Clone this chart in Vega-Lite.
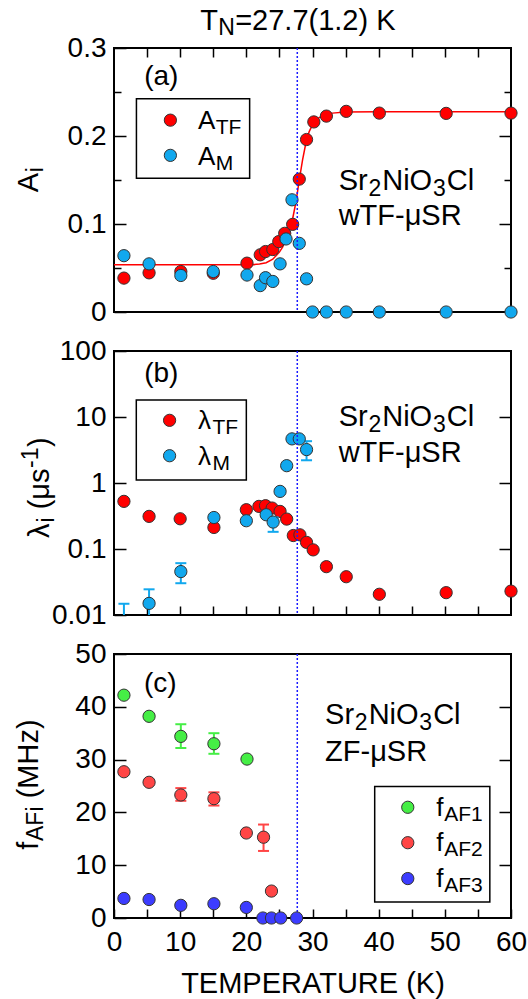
{
  "$schema": "https://vega.github.io/schema/vega-lite/v6.json",
  "padding": {"left": 14, "top": 5, "right": 5, "bottom": 5},
  "bounds": "flush",
  "spacing": 39,
  "config": {
    "font": "Liberation Sans",
    "view": {"stroke": "black", "strokeWidth": 2},
    "axis": {"domain": false, "grid": false, "tickColor": "black", "tickWidth": 1.5, "labelFont": "Liberation Sans", "labelFontSize": 28, "labelColor": "black", "titleFont": "Liberation Sans", "titleFontWeight": "normal", "titleColor": "black", "labelOverlap": false, "labelFlush": false, "labelBound": false},
    "text": {"font": "Liberation Sans", "fontSize": 29, "align": "left", "baseline": "alphabetic", "color": "black"},
    "circle": {"size": 150, "stroke": "#333333", "strokeWidth": 1, "opacity": 1}
  },
  "datasets": {
    "a_fit": [
      {"T": 0, "A": 0.0536}, {"T": 20, "A": 0.0536}, {"T": 21, "A": 0.0538}, {"T": 22, "A": 0.0545}, {"T": 23, "A": 0.056}, {"T": 24, "A": 0.06}, {"T": 25, "A": 0.068}, {"T": 25.5, "A": 0.074}, {"T": 26, "A": 0.083}, {"T": 26.5, "A": 0.093}, {"T": 27, "A": 0.106}, {"T": 27.5, "A": 0.125}, {"T": 28, "A": 0.15}, {"T": 28.5, "A": 0.173}, {"T": 29, "A": 0.192}, {"T": 29.5, "A": 0.205}, {"T": 30, "A": 0.213}, {"T": 31, "A": 0.221}, {"T": 32, "A": 0.2245}, {"T": 33, "A": 0.226}, {"T": 35, "A": 0.2272}, {"T": 40, "A": 0.2275}, {"T": 60, "A": 0.2275}
    ],
    "a_pts": [
      {"T": 1.5, "A": 0.0385, "s": "ATF"}, {"T": 5.3, "A": 0.0445, "s": "ATF"}, {"T": 10.1, "A": 0.046, "s": "ATF"}, {"T": 15.0, "A": 0.044, "s": "ATF"}, {"T": 20.1, "A": 0.0555, "s": "ATF"}, {"T": 22.1, "A": 0.065, "s": "ATF"}, {"T": 22.9, "A": 0.0687, "s": "ATF"}, {"T": 24.0, "A": 0.071, "s": "ATF"}, {"T": 24.9, "A": 0.08, "s": "ATF"}, {"T": 25.8, "A": 0.0894, "s": "ATF"}, {"T": 27.0, "A": 0.0996, "s": "ATF"}, {"T": 28.0, "A": 0.151, "s": "ATF"}, {"T": 29.1, "A": 0.196, "s": "ATF"}, {"T": 30.2, "A": 0.216, "s": "ATF"}, {"T": 32.1, "A": 0.2226, "s": "ATF"}, {"T": 35.1, "A": 0.228, "s": "ATF"}, {"T": 40.1, "A": 0.226, "s": "ATF"}, {"T": 50.2, "A": 0.2257, "s": "ATF"}, {"T": 60.0, "A": 0.226, "s": "ATF"},
      {"T": 1.5, "A": 0.064, "s": "AM"}, {"T": 5.3, "A": 0.0547, "s": "AM"}, {"T": 10.1, "A": 0.0415, "s": "AM"}, {"T": 15.0, "A": 0.046, "s": "AM"}, {"T": 20.1, "A": 0.042, "s": "AM"}, {"T": 22.1, "A": 0.03, "s": "AM"}, {"T": 22.9, "A": 0.039, "s": "AM"}, {"T": 24.0, "A": 0.0347, "s": "AM"}, {"T": 25.1, "A": 0.0547, "s": "AM"}, {"T": 26.0, "A": 0.083, "s": "AM"}, {"T": 26.9, "A": 0.1275, "s": "AM"}, {"T": 28.0, "A": 0.078, "s": "AM"}, {"T": 29.1, "A": 0.0377, "s": "AM"}, {"T": 30.0, "A": 0, "s": "AM"}, {"T": 32.1, "A": 0, "s": "AM"}, {"T": 35.1, "A": 0, "s": "AM"}, {"T": 40.1, "A": 0, "s": "AM"}, {"T": 50.2, "A": 0, "s": "AM"}, {"T": 60.0, "A": 0, "s": "AM"}
    ],
    "b_pts": [
      {"T": 1.5, "L": 0.527, "s": "LTF"}, {"T": 5.3, "L": 0.312, "s": "LTF"}, {"T": 10.0, "L": 0.287, "s": "LTF"}, {"T": 15.1, "L": 0.212, "s": "LTF"}, {"T": 20.0, "L": 0.394, "s": "LTF"}, {"T": 21.9, "L": 0.442, "s": "LTF"}, {"T": 22.9, "L": 0.453, "s": "LTF"}, {"T": 23.9, "L": 0.417, "s": "LTF"}, {"T": 25.1, "L": 0.371, "s": "LTF"}, {"T": 26.1, "L": 0.284, "s": "LTF"}, {"T": 27.1, "L": 0.16, "s": "LTF"}, {"T": 28.1, "L": 0.164, "s": "LTF"}, {"T": 29.1, "L": 0.126, "s": "LTF"}, {"T": 30.1, "L": 0.097, "s": "LTF"}, {"T": 32.1, "L": 0.054, "s": "LTF"}, {"T": 35.1, "L": 0.038, "s": "LTF"}, {"T": 40.1, "L": 0.0206, "s": "LTF"}, {"T": 50.2, "L": 0.0218, "s": "LTF"}, {"T": 60.0, "L": 0.023, "s": "LTF"},
      {"T": 1.5, "L": 0.007, "s": "LM"}, {"T": 5.3, "L": 0.015, "s": "LM"}, {"T": 10.1, "L": 0.0455, "s": "LM"}, {"T": 15.1, "L": 0.3, "s": "LM"}, {"T": 20.0, "L": 0.268, "s": "LM"}, {"T": 23.0, "L": 0.33, "s": "LM"}, {"T": 24.05, "L": 0.256, "s": "LM"}, {"T": 25.1, "L": 0.746, "s": "LM"}, {"T": 26.1, "L": 1.83, "s": "LM"}, {"T": 26.9, "L": 4.66, "s": "LM"}, {"T": 28.0, "L": 4.66, "s": "LM"}, {"T": 29.1, "L": 3.21, "s": "LM"}
    ],
    "b_err": [
      {"T": 1.5, "lo": 0.004, "hi": 0.0148}, {"T": 5.3, "lo": 0.009, "hi": 0.0245}, {"T": 10.1, "lo": 0.0303, "hi": 0.061}, {"T": 24.05, "lo": 0.182, "hi": 0.3}, {"T": 29.1, "lo": 2.21, "hi": 4.3}
    ],
    "c_pts": [
      {"T": 1.5, "f": 42.2, "s": "AF1"}, {"T": 5.3, "f": 38.2, "s": "AF1"}, {"T": 10.1, "f": 34.4, "s": "AF1"}, {"T": 15.1, "f": 33.0, "s": "AF1"}, {"T": 20.1, "f": 30.1, "s": "AF1"},
      {"T": 1.5, "f": 27.7, "s": "AF2"}, {"T": 5.3, "f": 25.7, "s": "AF2"}, {"T": 10.1, "f": 23.3, "s": "AF2"}, {"T": 15.1, "f": 22.6, "s": "AF2"}, {"T": 20.0, "f": 16.1, "s": "AF2"}, {"T": 22.6, "f": 15.3, "s": "AF2"}, {"T": 23.8, "f": 5.1, "s": "AF2"},
      {"T": 1.5, "f": 3.7, "s": "AF3"}, {"T": 5.3, "f": 3.5, "s": "AF3"}, {"T": 10.1, "f": 2.4, "s": "AF3"}, {"T": 15.1, "f": 2.7, "s": "AF3"}, {"T": 20.0, "f": 2.0, "s": "AF3"}, {"T": 22.5, "f": 0, "s": "AF3"}, {"T": 23.8, "f": 0, "s": "AF3"}, {"T": 25.2, "f": 0, "s": "AF3"}, {"T": 27.6, "f": 0, "s": "AF3"}
    ],
    "c_err": [
      {"T": 10.1, "lo": 32.2, "hi": 36.7, "s": "AF1"}, {"T": 15.1, "lo": 31.1, "hi": 35.0, "s": "AF1"},
      {"T": 10.1, "lo": 22.2, "hi": 24.6, "s": "AF2"}, {"T": 15.1, "lo": 21.3, "hi": 23.8, "s": "AF2"}, {"T": 22.6, "lo": 12.7, "hi": 17.7, "s": "AF2"}
    ]
  },
  "vconcat": [
    {
      "width": 397, "height": 264,
      "resolve": {"axis": {"x": "independent", "y": "independent"}},
      "layer": [
        {"data": {"name": "a_fit"}, "mark": {"type": "line", "color": "#ff0000", "strokeWidth": 1.5},
         "encoding": {
           "x": {"field": "T", "type": "quantitative", "scale": {"domain": [0, 60]}, "axis": {"orient": "top", "values": [5, 10, 15, 20, 25, 30, 35, 40, 45, 50, 55], "tickSize": -9, "labels": false, "title": null}},
           "y": {"field": "A", "type": "quantitative", "scale": {"domain": [0, 0.3]}, "axis": {"orient": "left", "values": [0, 0.1, 0.2, 0.3], "tickSize": -12, "labelPadding": 20, "format": "~g", "title": null}}}},
        {"data": {"name": "a_pts"}, "transform": [{"filter": "datum.s === 'ATF'"}],
         "mark": {"type": "circle", "fill": "#ff0000"},
         "encoding": {
           "x": {"field": "T", "type": "quantitative", "axis": null},
           "y": {"field": "A", "type": "quantitative", "axis": {"orient": "left", "values": [0.05, 0.15, 0.25], "tickSize": -7, "labels": false, "title": null}}}},
        {"data": {"name": "a_pts"}, "transform": [{"filter": "datum.s === 'AM'"}],
         "mark": {"type": "circle", "fill": "#11a8ee"},
         "encoding": {
           "x": {"field": "T", "type": "quantitative", "axis": null},
           "y": {"field": "A", "type": "quantitative", "axis": {"orient": "right", "values": [0.1, 0.2], "tickSize": -12, "labels": false, "title": null}}}},
        {"data": {"values": [{}]}, "mark": {"type": "rule", "color": "#1a1aff", "strokeDash": [2, 2], "strokeWidth": 1.5},
         "encoding": {"x": {"datum": 27.7, "type": "quantitative", "axis": null}}},
        {"data": {"values": [{}]}, "mark": {"type": "rect", "fill": "white", "stroke": "black", "strokeWidth": 1.5},
         "encoding": {
           "x": {"datum": 3.39, "type": "quantitative", "axis": null}, "x2": {"datum": 20.5},
           "y": {"datum": 0.2423, "type": "quantitative", "axis": {"orient": "right", "values": [0.05, 0.15, 0.25], "tickSize": -7, "labels": false, "title": null}}, "y2": {"datum": 0.152}}},
        {"data": {"values": [{}]},
         "layer": [
           {"mark": {"type": "circle", "fill": "#ff0000"},
            "encoding": {"x": {"datum": 8.52, "type": "quantitative", "axis": null}, "y": {"datum": 0.218, "type": "quantitative", "axis": null}}},
           {"mark": {"type": "circle", "fill": "#11a8ee"},
            "encoding": {"x": {"datum": 8.52, "type": "quantitative", "axis": null}, "y": {"datum": 0.178, "type": "quantitative", "axis": null}}},
           {"encoding": {"x": {"datum": 12.69, "type": "quantitative", "axis": null}, "y": {"datum": 0.208, "type": "quantitative", "axis": null}},
            "layer": [
              {"mark": {"type": "text", "text": "A", "fontSize": 26}},
              {"mark": {"type": "text", "text": "TF", "fontSize": 21, "dx": 17.8, "dy": 5}}]},
           {"encoding": {"x": {"datum": 12.69, "type": "quantitative", "axis": null}, "y": {"datum": 0.1675, "type": "quantitative", "axis": null}},
            "layer": [
              {"mark": {"type": "text", "text": "A", "fontSize": 26}},
              {"mark": {"type": "text", "text": "M", "fontSize": 21, "dx": 17.8, "dy": 5}}]},
           {"encoding": {"x": {"datum": 13.05, "type": "quantitative", "axis": null}, "y": {"datum": 0.3208, "type": "quantitative", "axis": null}},
            "layer": [
              {"mark": {"type": "text", "text": "T", "fontSize": 29}},
              {"mark": {"type": "text", "text": "N", "fontSize": 23, "dx": 17.9, "dy": 5}},
              {"mark": {"type": "text", "text": "=27.7(1.2) K", "fontSize": 29, "dx": 34.8}}]},
           {"mark": {"type": "text", "text": "(a)", "fontSize": 28, "align": "center", "baseline": "middle"},
            "encoding": {"x": {"datum": 7.15, "type": "quantitative", "axis": null}, "y": {"datum": 0.267, "type": "quantitative", "axis": null}}},
           {"encoding": {"x": {"datum": 33.95, "type": "quantitative", "axis": null}, "y": {"datum": 0.1383, "type": "quantitative", "axis": null}},
            "layer": [
              {"mark": {"type": "text", "text": "Sr"}},
              {"mark": {"type": "text", "text": "2", "fontSize": 23, "dx": 29.8, "dy": 6}},
              {"mark": {"type": "text", "text": "NiO", "dx": 43.6}},
              {"mark": {"type": "text", "text": "3", "fontSize": 23, "dx": 94.3, "dy": 6}},
              {"mark": {"type": "text", "text": "Cl", "dx": 108.1}}]},
           {"mark": {"type": "text", "text": "wTF-μSR"},
            "encoding": {"x": {"datum": 33.95, "type": "quantitative", "axis": null}, "y": {"datum": 0.0985, "type": "quantitative", "axis": null}}},
           {"encoding": {"x": {"datum": -11.44, "type": "quantitative", "axis": null}, "y": {"datum": 0.1362, "type": "quantitative", "axis": null}},
            "layer": [
              {"mark": {"type": "text", "text": "A", "angle": 270}},
              {"mark": {"type": "text", "text": "i", "fontSize": 23, "angle": 270, "dx": 19.8, "dy": 5}}]}
         ]}
      ]
    },
    {
      "width": 397, "height": 264,
      "resolve": {"axis": {"x": "independent", "y": "independent"}},
      "layer": [
        {"data": {"name": "b_pts"}, "transform": [{"filter": "datum.s === 'LTF'"}],
         "mark": {"type": "circle", "fill": "#ff0000"},
         "encoding": {
           "x": {"field": "T", "type": "quantitative", "scale": {"domain": [0, 60]}, "axis": {"orient": "bottom", "values": [5, 10, 15, 20, 25, 30, 35, 40, 45, 50, 55], "tickSize": -9, "labels": false, "title": null}},
           "y": {"field": "L", "type": "quantitative", "scale": {"type": "log", "domain": [0.01, 100]}, "axis": {"orient": "left", "values": [0.01, 0.1, 1, 10, 100], "tickSize": -12, "labelPadding": 20, "format": "~g", "title": null}}}},
        {"data": {"name": "b_err"}, "mark": {"type": "rule", "color": "#11a8ee", "strokeWidth": 2, "clip": true},
         "encoding": {
           "x": {"field": "T", "type": "quantitative", "axis": null},
           "y": {"field": "lo", "type": "quantitative", "axis": {"orient": "right", "values": [0.1, 1, 10], "tickSize": -12, "labels": false, "title": null}}, "y2": {"field": "hi"}}},
        {"data": {"name": "b_err"}, "mark": {"type": "tick", "orient": "horizontal", "color": "#11a8ee", "size": 11, "thickness": 2, "clip": true, "opacity": 1},
         "encoding": {"x": {"field": "T", "type": "quantitative", "axis": null}, "y": {"field": "lo", "type": "quantitative", "axis": null}}},
        {"data": {"name": "b_err"}, "mark": {"type": "tick", "orient": "horizontal", "color": "#11a8ee", "size": 11, "thickness": 2, "clip": true, "opacity": 1},
         "encoding": {"x": {"field": "T", "type": "quantitative", "axis": null}, "y": {"field": "hi", "type": "quantitative", "axis": null}}},
        {"data": {"name": "b_pts"}, "transform": [{"filter": "datum.s === 'LM'"}],
         "mark": {"type": "circle", "fill": "#11a8ee", "clip": true},
         "encoding": {
           "x": {"field": "T", "type": "quantitative", "axis": null},
           "y": {"field": "L", "type": "quantitative", "axis": null}}},
        {"data": {"values": [{}]}, "mark": {"type": "rule", "color": "#1a1aff", "strokeDash": [2, 2], "strokeWidth": 1.5},
         "encoding": {"x": {"datum": 27.7, "type": "quantitative", "axis": null}}},
        {"data": {"values": [{}]},
         "layer": [
           {"mark": {"type": "rect", "fill": "white", "stroke": "black", "strokeWidth": 1.5},
            "encoding": {"x": {"datum": 3.37, "type": "quantitative", "axis": null}, "x2": {"datum": 20.0}, "y": {"datum": 18.1, "type": "quantitative", "axis": null}, "y2": {"datum": 1.11}}},
           {"mark": {"type": "circle", "fill": "#ff0000"},
            "encoding": {"x": {"datum": 8.4, "type": "quantitative", "axis": null}, "y": {"datum": 8.9, "type": "quantitative", "axis": null}}},
           {"mark": {"type": "circle", "fill": "#11a8ee"},
            "encoding": {"x": {"datum": 8.4, "type": "quantitative", "axis": null}, "y": {"datum": 2.59, "type": "quantitative", "axis": null}}},
           {"encoding": {"x": {"datum": 12.69, "type": "quantitative", "axis": null}, "y": {"datum": 6.52, "type": "quantitative", "axis": null}},
            "layer": [
              {"mark": {"type": "text", "text": "λ", "fontSize": 26}},
              {"mark": {"type": "text", "text": "TF", "fontSize": 21, "dx": 14.5, "dy": 5}}]},
           {"encoding": {"x": {"datum": 12.69, "type": "quantitative", "axis": null}, "y": {"datum": 1.89, "type": "quantitative", "axis": null}},
            "layer": [
              {"mark": {"type": "text", "text": "λ", "fontSize": 26}},
              {"mark": {"type": "text", "text": "M", "fontSize": 21, "dx": 14.5, "dy": 5}}]},
           {"mark": {"type": "text", "text": "(b)", "fontSize": 28, "align": "center", "baseline": "middle"},
            "encoding": {"x": {"datum": 7.15, "type": "quantitative", "axis": null}, "y": {"datum": 44.9, "type": "quantitative", "axis": null}}},
           {"encoding": {"x": {"datum": 33.95, "type": "quantitative", "axis": null}, "y": {"datum": 7.25, "type": "quantitative", "axis": null}},
            "layer": [
              {"mark": {"type": "text", "text": "Sr"}},
              {"mark": {"type": "text", "text": "2", "fontSize": 23, "dx": 29.8, "dy": 6}},
              {"mark": {"type": "text", "text": "NiO", "dx": 43.6}},
              {"mark": {"type": "text", "text": "3", "fontSize": 23, "dx": 94.3, "dy": 6}},
              {"mark": {"type": "text", "text": "Cl", "dx": 108.1}}]},
           {"mark": {"type": "text", "text": "wTF-μSR"},
            "encoding": {"x": {"datum": 33.95, "type": "quantitative", "axis": null}, "y": {"datum": 2.05, "type": "quantitative", "axis": null}}},
           {"encoding": {"x": {"datum": -9.8, "type": "quantitative", "axis": null}, "y": {"datum": 0.147, "type": "quantitative", "axis": null}},
            "layer": [
              {"mark": {"type": "text", "text": "λ", "angle": 270}},
              {"mark": {"type": "text", "text": "i", "fontSize": 23, "angle": 270, "dx": 15.5, "dy": 5}},
              {"mark": {"type": "text", "text": "(μs", "angle": 270, "dx": 28.6}},
              {"mark": {"type": "text", "text": "-1", "fontSize": 23, "angle": 270, "dx": 70, "dy": -11}},
              {"mark": {"type": "text", "text": ")", "angle": 270, "dx": 91}}]}
         ]}
      ]
    },
    {
      "width": 397, "height": 264,
      "resolve": {"axis": {"x": "independent", "y": "independent"}},
      "layer": [
        {"data": {"name": "c_err"}, "mark": {"type": "rule", "strokeWidth": 2},
         "encoding": {
           "x": {"field": "T", "type": "quantitative", "scale": {"domain": [0, 60]}, "axis": null},
           "y": {"field": "lo", "type": "quantitative", "scale": {"domain": [0, 50]}, "axis": {"orient": "right", "values": [10, 20, 30, 40], "tickSize": -12, "labels": false, "title": null}}, "y2": {"field": "hi"},
           "color": {"field": "s", "type": "nominal", "scale": {"domain": ["AF1", "AF2", "AF3"], "range": ["#45ee45", "#ff4545", "#3c3cff"]}, "legend": null}}},
        {"data": {"name": "c_err"}, "mark": {"type": "tick", "orient": "horizontal", "size": 11, "thickness": 2, "opacity": 1},
         "encoding": {"x": {"field": "T", "type": "quantitative", "axis": null}, "y": {"field": "lo", "type": "quantitative", "axis": null}, "color": {"field": "s", "type": "nominal", "legend": null}}},
        {"data": {"name": "c_err"}, "mark": {"type": "tick", "orient": "horizontal", "size": 11, "thickness": 2, "opacity": 1},
         "encoding": {"x": {"field": "T", "type": "quantitative", "axis": null}, "y": {"field": "hi", "type": "quantitative", "axis": null}, "color": {"field": "s", "type": "nominal", "legend": null}}},
        {"data": {"values": [{}]}, "mark": {"type": "rule", "color": "#1a1aff", "strokeDash": [2, 2], "strokeWidth": 1.5},
         "encoding": {"x": {"datum": 27.7, "type": "quantitative", "axis": null}}},
        {"data": {"name": "c_pts"},
         "mark": {"type": "circle"},
         "encoding": {
           "x": {"field": "T", "type": "quantitative", "axis": {"orient": "bottom", "values": [0, 5, 10, 15, 20, 25, 30, 35, 40, 45, 50, 55, 60], "tickSize": -9, "labelPadding": 19, "labelExpr": "datum.value % 10 === 0 ? datum.label : ''", "title": "TEMPERATURE (K)", "titleFontSize": 29, "titlePadding": 13}},
           "y": {"field": "f", "type": "quantitative", "axis": {"orient": "left", "values": [0, 10, 20, 30, 40, 50], "tickSize": -12, "labelPadding": 20, "title": null}},
           "color": {"field": "s", "type": "nominal", "legend": null}}},
        {"data": {"values": [{}]},
         "layer": [
           {"mark": {"type": "rect", "fill": "white", "stroke": "black", "strokeWidth": 1.5},
            "encoding": {"x": {"datum": 39.4, "type": "quantitative", "axis": null}, "x2": {"datum": 56.8}, "y": {"datum": 24.9, "type": "quantitative", "axis": null}, "y2": {"datum": 3.04}}},
           {"mark": {"type": "circle", "fill": "#45ee45"},
            "encoding": {"x": {"datum": 44.4, "type": "quantitative", "axis": null}, "y": {"datum": 20.97, "type": "quantitative", "axis": null}}},
           {"mark": {"type": "circle", "fill": "#ff4545"},
            "encoding": {"x": {"datum": 44.4, "type": "quantitative", "axis": null}, "y": {"datum": 14.26, "type": "quantitative", "axis": null}}},
           {"mark": {"type": "circle", "fill": "#3c3cff"},
            "encoding": {"x": {"datum": 44.4, "type": "quantitative", "axis": null}, "y": {"datum": 7.47, "type": "quantitative", "axis": null}}},
           {"encoding": {"x": {"datum": 48.7, "type": "quantitative", "axis": null}, "y": {"datum": 19.38, "type": "quantitative", "axis": null}},
            "layer": [
              {"mark": {"type": "text", "text": "f", "fontSize": 26}},
              {"mark": {"type": "text", "text": "AF1", "fontSize": 21, "dx": 8, "dy": 5}}]},
           {"encoding": {"x": {"datum": 48.7, "type": "quantitative", "axis": null}, "y": {"datum": 12.69, "type": "quantitative", "axis": null}},
            "layer": [
              {"mark": {"type": "text", "text": "f", "fontSize": 26}},
              {"mark": {"type": "text", "text": "AF2", "fontSize": 21, "dx": 8, "dy": 5}}]},
           {"encoding": {"x": {"datum": 48.7, "type": "quantitative", "axis": null}, "y": {"datum": 5.93, "type": "quantitative", "axis": null}},
            "layer": [
              {"mark": {"type": "text", "text": "f", "fontSize": 26}},
              {"mark": {"type": "text", "text": "AF3", "fontSize": 21, "dx": 8, "dy": 5}}]},
           {"mark": {"type": "text", "text": "(c)", "fontSize": 28, "align": "center", "baseline": "middle"},
            "encoding": {"x": {"datum": 7.0, "type": "quantitative", "axis": null}, "y": {"datum": 44.4, "type": "quantitative", "axis": null}}},
           {"encoding": {"x": {"datum": 31.9, "type": "quantitative", "axis": null}, "y": {"datum": 36.8, "type": "quantitative", "axis": null}},
            "layer": [
              {"mark": {"type": "text", "text": "Sr"}},
              {"mark": {"type": "text", "text": "2", "fontSize": 23, "dx": 29.8, "dy": 6}},
              {"mark": {"type": "text", "text": "NiO", "dx": 43.6}},
              {"mark": {"type": "text", "text": "3", "fontSize": 23, "dx": 94.3, "dy": 6}},
              {"mark": {"type": "text", "text": "Cl", "dx": 108.1}}]},
           {"mark": {"type": "text", "text": "ZF-μSR"},
            "encoding": {"x": {"datum": 31.9, "type": "quantitative", "axis": null}, "y": {"datum": 29.7, "type": "quantitative", "axis": null}}},
           {"encoding": {"x": {"datum": -11.44, "type": "quantitative", "axis": null}, "y": {"datum": 12.92, "type": "quantitative", "axis": null}},
            "layer": [
              {"mark": {"type": "text", "text": "f", "angle": 270}},
              {"mark": {"type": "text", "text": "AFi", "fontSize": 23, "angle": 270, "dx": 8.8, "dy": 5}},
              {"mark": {"type": "text", "text": "(MHz)", "angle": 270, "dx": 51.5}}]}
         ]}
      ]
    }
  ]
}
